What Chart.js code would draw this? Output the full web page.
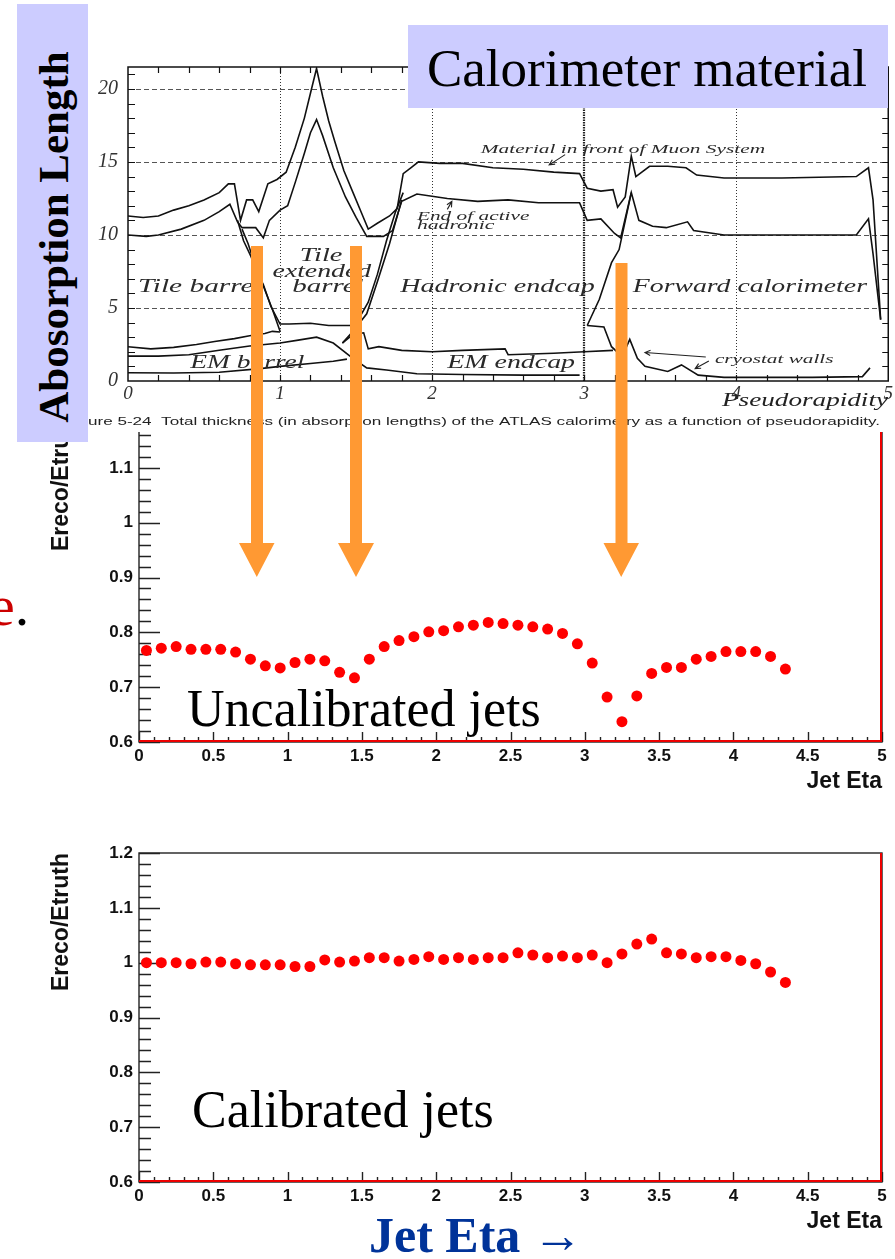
<!DOCTYPE html>
<html>
<head>
<meta charset="utf-8">
<title>Jet response vs eta</title>
<script src="https://cdn.jsdelivr.net/npm/chart.js@4.4.0/dist/chart.umd.min.js"></script>
<style>
  html, body { margin: 0; padding: 0; background: #fff; }
  #page { position: relative; width: 895px; height: 1259px; overflow: hidden; background: #fff; }
  canvas { position: absolute; left: 0; }
  #topChart { top: 0; z-index: 2; }
  #midChart { top: 360px; z-index: 1; }
  #botChart { top: 800px; z-index: 1; }
  .box { position: absolute; background: #ccccff; z-index: 3; }
  .txt { position: absolute; white-space: nowrap; line-height: 1; z-index: 5; font-family: "Liberation Serif", "Times New Roman", serif; }
  #arrows { position: absolute; left: 0; top: 0; z-index: 6; }
</style>
</head>
<body>
<div id="page">
  <canvas id="topChart" width="895" height="432"></canvas>
  <canvas id="midChart" width="895" height="440"></canvas>
  <canvas id="botChart" width="895" height="440"></canvas>

  <div class="box" style="left:17px; top:4px; width:71px; height:438px;"></div>
  <div class="txt" style="left:52.5px; top:236.5px; font-size:43px; font-weight:bold; transform:translate(-50%,-50%) rotate(-90deg);">Abosorption Length</div>

  <div class="box" style="left:408px; top:25px; width:480px; height:83px;"></div>
  <div class="txt" style="left:427px; top:41.6px; font-size:53px;">Calorimeter material</div>

  <div class="txt" style="left:-11px; top:577.4px; font-size:58px;"><span style="color:#cc0000">e</span>.</div>

  <div class="txt" style="left:187px; top:682.5px; font-size:52px;">Uncalibrated jets</div>
  <div class="txt" style="left:192px; top:1083.5px; font-size:52px;">Calibrated jets</div>
  <div class="txt" style="left:369px; top:1210px; font-size:50px; font-weight:bold; color:#003399;">Jet Eta &rarr;</div>

  <svg id="arrows" width="895" height="1259">
    <g fill="#ff9933">
      <polygon points="251,246 263,246 263,543 274.5,543 256.8,577 239,543 251,543"/>
      <polygon points="350,246 362,246 362,543 374,543 356,577 338,543 350,543"/>
      <polygon points="615.5,263 627.5,263 627.5,543 639,543 621.2,577 603.5,543 615.5,543"/>
    </g>
  </svg>
</div>

<script>
// ---------- response vs jet eta (bins of 0.1) ----------
const etaBins = [0.05, 0.15, 0.25, 0.35, 0.45, 0.55, 0.65, 0.75, 0.85, 0.95,
                 1.05, 1.15, 1.25, 1.35, 1.45, 1.55, 1.65, 1.75, 1.85, 1.95,
                 2.05, 2.15, 2.25, 2.35, 2.45, 2.55, 2.65, 2.75, 2.85, 2.95,
                 3.05, 3.15, 3.25, 3.35, 3.45, 3.55, 3.65, 3.75, 3.85, 3.95,
                 4.05, 4.15, 4.25, 4.35];

const uncalibrated = [0.767, 0.771, 0.774, 0.769, 0.769, 0.769, 0.764, 0.751, 0.739, 0.735,
                      0.745, 0.751, 0.748, 0.727, 0.717, 0.751, 0.774, 0.785, 0.792, 0.801,
                      0.803, 0.810, 0.813, 0.818, 0.816, 0.813, 0.810, 0.806, 0.798, 0.779,
                      0.744, 0.682, 0.637, 0.684, 0.725, 0.736, 0.736, 0.751, 0.756, 0.765,
                      0.765, 0.765, 0.756, 0.733];

const calibrated = [1.000, 1.000, 1.000, 0.998, 1.001, 1.001, 0.998, 0.996, 0.996, 0.996,
                    0.993, 0.993, 1.005, 1.001, 1.003, 1.009, 1.009, 1.003, 1.006, 1.011,
                    1.006, 1.009, 1.006, 1.009, 1.009, 1.018, 1.014, 1.009, 1.012, 1.009,
                    1.014, 1.000, 1.016, 1.034, 1.043, 1.018, 1.016, 1.009, 1.011, 1.011,
                    1.004, 0.998, 0.983, 0.964];

const respTicks = [0.6, 0.7, 0.8, 0.9, 1.0, 1.1, 1.2];
const jetEtaTicks = [0, 0.5, 1, 1.5, 2, 2.5, 3, 3.5, 4, 4.5, 5];

// ---------- calorimeter material (absorption lengths vs pseudorapidity) ----------
const muonEta = [0, 0.1, 0.2, 0.3, 0.4, 0.5, 0.6, 0.66, 0.7, 0.74, 0.78, 0.82, 0.86, 0.92, 0.98, 1.04, 1.1, 1.16, 1.2, 1.24,
                 1.28, 1.32, 1.36, 1.42, 1.48, 1.54, 1.58, 1.64, 1.72, 1.77, 1.81, 1.86, 1.91, 2.05, 2.2, 2.4, 2.6, 2.8, 2.97, 3.02,
                 3.11, 3.19, 3.22, 3.27, 3.31, 3.34, 3.43, 3.55, 3.67, 3.74, 3.92, 4.3, 4.79, 4.87, 4.9, 4.95];
const muonLambda = [11.3, 11.2, 11.3, 11.7, 12.0, 12.4, 12.9, 13.5, 13.5, 11.0, 12.4, 12.4, 11.6, 13.5, 13.8, 14.3, 16.0, 18.0, 19.7, 21.4,
                    19.5, 17.8, 16.4, 14.4, 12.9, 11.4, 10.4, 10.8, 11.3, 11.8, 14.2, 14.6, 15.0, 14.9, 14.9, 14.6, 14.5, 14.3, 14.2, 13.2,
                    13.0, 13.1, 11.9, 12.6, 15.4, 14.0, 14.7, 14.7, 14.6, 14.1, 13.9, 13.9, 14.0, 14.6, 12.4, 4.2];

const activeEta = [0, 0.12, 0.2, 0.35, 0.5, 0.6, 0.67, 0.72, 0.75, 0.84, 0.89, 0.93, 1.0, 1.05, 1.1, 1.16, 1.2, 1.24, 1.28, 1.35,
                   1.43, 1.5, 1.57, 1.68, 1.74, 1.8, 1.9, 2.1, 2.3, 2.5, 2.7, 2.97, 3.02, 3.11, 3.2, 3.24, 3.31, 3.36, 3.45, 3.54,
                   3.68, 3.72, 3.92, 4.3, 4.79, 4.87, 4.9, 4.95];
const activeLambda = [10.0, 9.9, 10.0, 10.4, 11.0, 11.6, 12.1, 10.9, 10.5, 10.5, 9.8, 11.0, 11.7, 12.0, 13.6, 15.6, 17.0, 17.9, 16.8, 14.6,
                      12.6, 11.2, 9.9, 9.9, 10.3, 12.3, 12.8, 12.5, 12.3, 12.4, 12.2, 12.2, 11.0, 11.1, 10.1, 9.8, 12.9, 11.0, 10.6, 10.5,
                      10.9, 10.3, 10.0, 10.0, 10.0, 11.1, 8.7, 4.2];

const tileEdgeEta = [0.72, 0.76, 0.81, 0.85, 0.89, 0.94, 1.0, 1.06, 1.2, 1.32, 1.46, 1.52, 1.58, 1.64, 1.7, 1.76, 1.81];
const tileEdgeLambda = [11.0, 9.6, 8.5, 7.4, 6.6, 5.1, 3.9, 3.9, 3.95, 3.8, 3.8, 4.3, 5.4, 7.3, 9.6, 11.6, 12.9];

const tileInnerEta = [0.75, 0.79, 0.84, 0.89, 0.95, 1.0];
const tileInnerLambda = [10.4, 9.4, 7.8, 6.5, 4.9, 3.4];

const hecEdgeEta = [1.41, 1.48, 1.57, 1.64, 1.72, 1.8];
const hecEdgeLambda = [2.6, 3.4, 4.6, 6.8, 9.4, 12.4];

const emFrontEta = [0, 0.15, 0.3, 0.45, 0.57, 0.7, 0.8, 0.9, 0.95, 1.0];
const emFrontLambda = [2.35, 2.2, 2.3, 2.5, 2.7, 2.9, 3.1, 3.25, 3.4, 3.35];

const emMidEta = [0, 0.2, 0.4, 0.6, 0.8, 1.0, 1.12, 1.24, 1.35, 1.46, 1.57, 1.7, 1.9, 2.2, 2.6, 2.97];
const emMidLambda = [1.7, 1.7, 1.8, 2.1, 2.4, 2.6, 2.8, 3.0, 2.6, 1.7, 0.9, 0.75, 0.5, 0.45, 0.4, 0.4];

const emBackEta = [0, 0.3, 0.6, 0.87, 1.0, 1.2, 1.35, 1.44];
const emBackLambda = [0.57, 0.55, 0.6, 0.85, 1.0, 1.2, 1.35, 1.5];

const emEndcapEta = [1.41, 1.48, 1.55, 1.58, 1.65, 1.8, 2.0, 2.2, 2.48, 2.5, 2.8, 3.0, 3.19];
const emEndcapLambda = [2.6, 3.2, 3.3, 2.2, 2.35, 2.1, 2.0, 2.1, 2.2, 1.8, 1.9, 2.0, 2.1];

const cryoEta = [3.02, 3.13, 3.18, 3.25, 3.3, 3.35, 3.4, 3.55, 3.64, 3.75, 3.92, 4.5, 4.83, 4.88];
const cryoLambda = [3.8, 3.7, 2.35, 1.67, 2.85, 1.55, 1.0, 0.65, 1.1, 0.4, 0.25, 0.25, 0.3, 0.9];

const fcalEta = [3.02, 3.1, 3.18, 3.23, 3.31];
const fcalLambda = [3.8, 5.6, 8.1, 9.0, 12.9];

const lambdaTicks = [0, 5, 10, 15, 20];
const pseudoTicks = [0, 1, 2, 3, 4, 5];

const curves = [
  [muonEta, muonLambda], [activeEta, activeLambda], [tileEdgeEta, tileEdgeLambda],
  [tileInnerEta, tileInnerLambda], [hecEdgeEta, hecEdgeLambda], [emFrontEta, emFrontLambda],
  [emMidEta, emMidLambda], [emBackEta, emBackLambda], [emEndcapEta, emEndcapLambda],
  [cryoEta, cryoLambda], [fcalEta, fcalLambda]
];

// region labels of the scanned figure: text, eta from, eta to, baseline (lambda), font size
const regionLabels = [
  ['Tile barrel', 0.066, 0.88, 6.1, 18],
  ['Tile', 1.13, 1.41, 8.2, 18],
  ['extended', 0.95, 1.6, 7.1, 18],
  ['barrel', 1.08, 1.55, 6.1, 18],
  ['Hadronic endcap', 1.79, 3.07, 6.1, 18],
  ['Forward calorimeter', 3.32, 4.86, 6.1, 18],
  ['EM barrel', 0.41, 1.16, 0.9, 18],
  ['EM endcap', 2.1, 2.94, 0.9, 18],
  ['cryostat walls', 3.86, 4.64, 1.23, 13],
  ['Material in front of Muon System', 2.32, 4.19, 15.6, 13],
  ['End of active', 1.9, 2.64, 11.0, 12],
  ['hadronic', 1.9, 2.41, 10.4, 12]
];
const pointerLines = [
  [2.875, 15.5, 2.77, 14.8],
  [2.1, 11.75, 2.13, 12.3],
  [3.8, 1.64, 3.4, 1.95],
  [3.82, 1.37, 3.73, 0.85]
];

function fitText(ctx, text, x0, x1, y, font, color) {
  ctx.save();
  ctx.font = font;
  ctx.fillStyle = color;
  ctx.textBaseline = 'alphabetic';
  const w = ctx.measureText(text).width;
  ctx.translate(x0, y);
  ctx.scale((x1 - x0) / w, 1);
  ctx.fillText(text, 0, 0);
  ctx.restore();
}

const fixTicks = (values) => (scale) => { scale.ticks = values.map(v => ({ value: v })); };
const plainNumber = v => String(+Number(v).toFixed(1));

// ---------- top: scanned material plot ----------
const materialFrame = {
  id: 'materialFrame',
  beforeDraw(chart) {
    const ctx = chart.ctx;
    ctx.save();
    ctx.fillStyle = '#fff';
    ctx.fillRect(0, 0, chart.width, chart.height);
    ctx.restore();
  },
  beforeDatasetsDraw(chart) {
    const { ctx, chartArea: a, scales: { x, y } } = chart;
    ctx.save();
    ctx.strokeStyle = '#555';
    ctx.lineWidth = 1;
    ctx.setLineDash([5, 3]);
    [5, 10, 15, 20].forEach(v => {
      const py = Math.round(y.getPixelForValue(v)) + 0.5;
      ctx.beginPath(); ctx.moveTo(a.left, py); ctx.lineTo(a.right, py); ctx.stroke();
    });
    ctx.strokeStyle = '#333';
    ctx.setLineDash([1, 2]);
    [1, 2, 4].forEach(v => {
      const px = Math.round(x.getPixelForValue(v)) + 0.5;
      ctx.beginPath(); ctx.moveTo(px, a.top); ctx.lineTo(px, a.bottom); ctx.stroke();
    });
    ctx.lineWidth = 2.2;
    ctx.strokeStyle = '#222';
    ctx.setLineDash([1.5, 1]);
    const p3 = Math.round(x.getPixelForValue(3));
    ctx.beginPath(); ctx.moveTo(p3, a.top); ctx.lineTo(p3, a.bottom); ctx.stroke();
    ctx.restore();
  },
  afterDatasetsDraw(chart) {
    const { ctx, chartArea: a, scales: { x, y } } = chart;
    ctx.save();
    ctx.strokeStyle = '#111';
    ctx.lineWidth = 1.5;
    ctx.strokeRect(a.left, a.top, a.right - a.left, a.bottom - a.top);
    ctx.lineWidth = 1.2;
    ctx.beginPath();
    for (let v = 1; v < 21.5; v++) {
      const py = Math.round(y.getPixelForValue(v)) + 0.5;
      ctx.moveTo(a.left, py); ctx.lineTo(a.left + 7, py);
      ctx.moveTo(a.right, py); ctx.lineTo(a.right - 6, py);
    }
    for (let i = 1; i < 25; i++) {
      const px = Math.round(x.getPixelForValue(i * 0.2)) + 0.5;
      ctx.moveTo(px, a.bottom); ctx.lineTo(px, a.bottom - 6);
      ctx.moveTo(px, a.top); ctx.lineTo(px, a.top + 6);
    }
    ctx.stroke();

    regionLabels.forEach(([t, e0, e1, lam, size]) => {
      fitText(ctx, t, x.getPixelForValue(e0), x.getPixelForValue(e1), y.getPixelForValue(lam),
              'italic ' + size + 'px "Liberation Serif"', '#2a2a2a');
    });

    ctx.strokeStyle = '#222';
    ctx.lineWidth = 1.1;
    pointerLines.forEach(([e0, l0, e1, l1]) => {
      const x0 = x.getPixelForValue(e0), y0 = y.getPixelForValue(l0);
      const x1 = x.getPixelForValue(e1), y1 = y.getPixelForValue(l1);
      const ang = Math.atan2(y1 - y0, x1 - x0);
      ctx.beginPath();
      ctx.moveTo(x0, y0); ctx.lineTo(x1, y1);
      ctx.moveTo(x1 - 6 * Math.cos(ang - 0.45), y1 - 6 * Math.sin(ang - 0.45));
      ctx.lineTo(x1, y1);
      ctx.lineTo(x1 - 6 * Math.cos(ang + 0.45), y1 - 6 * Math.sin(ang + 0.45));
      ctx.stroke();
    });

    fitText(ctx, 'Pseudorapidity', 722, 888, 406, 'italic 19px "Liberation Serif"', '#222');

    // caption (its start is hidden by the blue label box)
    const caption = 'Figure 5-24  Total thickness (in absorption lengths) of the ATLAS calorimetry as a function of pseudorapidity.';
    ctx.font = '11px "Liberation Sans"';
    const r = ctx.measureText('Fig').width / ctx.measureText(caption).width;
    const x0 = (88 - 880 * r) / (1 - r);
    fitText(ctx, caption, x0, 880, 425, '11px "Liberation Sans"', '#222');
    ctx.restore();
  }
};

new Chart(document.getElementById('topChart'), {
  type: 'scatter',
  data: {
    datasets: curves.map(([etas, lams]) => ({
      data: etas.map((e, i) => ({ x: e, y: lams[i] })),
      showLine: true,
      borderColor: '#111',
      borderWidth: 1.6,
      pointRadius: 0,
      tension: 0
    }))
  },
  options: {
    responsive: false,
    animation: false,
    events: [],
    layout: { padding: { left: 0, right: 6, top: 67, bottom: 0 } },
    plugins: { legend: { display: false }, tooltip: { enabled: false } },
    scales: {
      x: {
        type: 'linear', min: 0, max: 5,
        afterFit: s => { s.height = 51; },
        afterBuildTicks: fixTicks(pseudoTicks),
        grid: { display: false, drawTicks: false },
        border: { display: false },
        ticks: { font: { family: 'Liberation Serif', style: 'italic', size: 19 }, color: '#333', padding: 2, maxRotation: 0, autoSkip: false, callback: plainNumber }
      },
      y: {
        min: 0, max: 21.5,
        afterFit: s => { s.width = 128; },
        afterBuildTicks: fixTicks(lambdaTicks),
        grid: { display: false, drawTicks: false },
        border: { display: false },
        ticks: { font: { family: 'Liberation Serif', style: 'italic', size: 20 }, color: '#333', padding: 10, callback: plainNumber }
      }
    }
  },
  plugins: [materialFrame]
});

// ---------- ROOT style response plots ----------
const rootFrame = {
  id: 'rootFrame',
  beforeDatasetsDraw(chart) {
    const { ctx, chartArea: a, scales: { x, y } } = chart;
    ctx.save();
    ctx.strokeStyle = '#222';
    ctx.lineWidth = 1.4;
    ctx.strokeRect(a.left, a.top, a.right - a.left, a.bottom - a.top);
    ctx.beginPath();
    for (let i = 0; i <= 30; i++) {
      const py = Math.round(y.getPixelForValue(0.6 + i * 0.02)) + 0.5;
      ctx.moveTo(a.left, py); ctx.lineTo(a.left + (i % 5 === 0 ? 21 : 12), py);
    }
    for (let i = 0; i <= 50; i++) {
      const px = Math.round(x.getPixelForValue(i * 0.1)) + 0.5;
      ctx.moveTo(px, a.bottom); ctx.lineTo(px, a.bottom - (i % 5 === 0 ? 10 : 5));
    }
    ctx.stroke();
    ctx.strokeStyle = '#ee0000';
    ctx.lineWidth = 2;
    ctx.beginPath();
    ctx.moveTo(a.left, a.bottom - 1);
    ctx.lineTo(a.right - 1, a.bottom - 1);
    ctx.lineTo(a.right - 1, a.top);
    ctx.stroke();
    ctx.restore();
  }
};

function responseChart(id, values) {
  const tickFont = { family: 'Liberation Sans', weight: 'bold', size: 17 };
  const titleFont = { family: 'Liberation Sans', weight: 'bold', size: 23 };
  return new Chart(document.getElementById(id), {
    type: 'scatter',
    data: {
      datasets: [{
        data: etaBins.map((e, i) => ({ x: e, y: values[i] })),
        pointRadius: 5.5,
        pointBackgroundColor: '#ff0000',
        pointBorderWidth: 0
      }]
    },
    options: {
      responsive: false,
      animation: false,
      events: [],
      layout: { padding: { left: 0, right: 13, top: 53, bottom: 0 } },
      plugins: { legend: { display: false }, tooltip: { enabled: false } },
      scales: {
        x: {
          type: 'linear', min: 0, max: 5,
          afterFit: s => { s.height = 58; },
          afterBuildTicks: fixTicks(jetEtaTicks),
          grid: { display: false, drawTicks: false },
          border: { display: false },
          ticks: { font: tickFont, color: '#111', padding: 4, maxRotation: 0, autoSkip: false, callback: plainNumber },
          title: { display: true, text: 'Jet Eta', align: 'end', font: titleFont, color: '#111', padding: { top: 0, bottom: 4.2 } }
        },
        y: {
          min: 0.6, max: 1.2,
          afterFit: s => { s.width = 139; },
          afterBuildTicks: fixTicks(respTicks),
          grid: { display: false, drawTicks: false },
          border: { display: false },
          ticks: { font: tickFont, color: '#111', padding: 6, callback: plainNumber },
          title: { display: true, text: 'Ereco/Etruth', align: 'end', font: titleFont, color: '#111', padding: { top: 48.2, bottom: 0 } }
        }
      }
    },
    plugins: [rootFrame]
  });
}

responseChart('midChart', uncalibrated);
responseChart('botChart', calibrated);
</script>
</body>
</html>
